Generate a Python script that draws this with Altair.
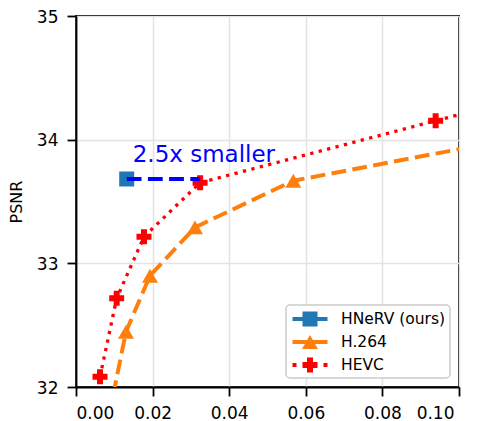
import altair as alt
import pandas as pd

# ---- data ----
hevc_bpp = [0.00627, 0.01062, 0.01775, 0.0324, 0.0939, 0.13]
hevc_psnr = [32.083, 32.717, 33.215, 33.652, 34.153, 34.44]

h264_bpp = [0.0075, 0.01305, 0.01932, 0.03107, 0.05674, 0.13]
h264_psnr = [31.6, 32.447, 32.900, 33.291, 33.668, 34.10]

hnerv_bpp = [0.01324]
hnerv_psnr = [33.682]

# annotation: HNeRV vs HEVC at equal PSNR
annot_bpp = [0.01324, 0.0324]
annot_psnr = [33.682, 33.682]
annot_text = ["2.5x smaller"]
annot_text_pos = [0.0148, 33.82]

series = ["HNeRV (ours)", "H.264", "HEVC"]
series_colors = ["#1f77b4", "#ff7f0e", "#ff0000"]

x_ticks = [0.0, 0.02, 0.04, 0.06, 0.08, 0.10]
y_ticks = [32, 33, 34, 35]

FONT = "DejaVu Sans"

hevc = pd.DataFrame({"bpp": hevc_bpp, "psnr": hevc_psnr})
h264 = pd.DataFrame({"bpp": h264_bpp, "psnr": h264_psnr})
hnerv = pd.DataFrame({"bpp": hnerv_bpp, "psnr": hnerv_psnr})
annot = pd.DataFrame({"bpp": annot_bpp, "psnr": annot_psnr})
annot_lbl = pd.DataFrame({"bpp": [annot_text_pos[0]], "psnr": [annot_text_pos[1]], "t": annot_text})
leg = pd.DataFrame({"series": series, "bpp": [None] * 3, "psnr": [None] * 3})

xs = alt.Scale(domain=[0, 0.1], nice=False, zero=False)
ys = alt.Scale(domain=[32, 35], nice=False, zero=False)

X = alt.X("bpp:Q", scale=xs,
          axis=alt.Axis(values=x_ticks, format=".2f", title=None,
                        labelOffset={"condition": {"test": "datum.value >= 0.099", "value": -5},
                                     "value": 0}))
Y = alt.Y("psnr:Q", scale=ys,
          axis=alt.Axis(values=y_ticks, format="d", title="PSNR"))

h264_line = alt.Chart(h264).mark_line(
    color="#ff7f0e", strokeWidth=4, strokeDash=[14.8, 6.4], clip=True
).encode(x=X, y=Y)
h264_pts = alt.Chart(h264).mark_point(
    shape="triangle-up", filled=True, size=256, color="#ff7f0e", opacity=1, clip=True
).encode(x=X, y=Y)

hevc_line = alt.Chart(hevc).mark_line(
    color="#ff0000", strokeWidth=3.3, strokeDash=[3.3, 5.4], clip=True
).encode(x=X, y=Y)
hevc_pts = alt.Chart(hevc).mark_point(
    shape="cross", filled=True, size=225, color="#ff0000", opacity=1, clip=True
).encode(x=X, y=Y)

hnerv_pts = alt.Chart(hnerv).mark_point(
    shape="square", filled=True, size=225, color="#1f77b4", opacity=1
).encode(x=X, y=Y)

annot_line = alt.Chart(annot).mark_line(
    color="#0000ff", strokeWidth=4, strokeDash=[14.8, 6.4]
).encode(x=X, y=Y)

annot_txt = alt.Chart(annot_lbl).mark_text(
    color="#0000ff", fontSize=23, font=FONT, align="left", baseline="alphabetic"
).encode(x=X, y=Y, text="t:N")

# legend symbols: line + marker (unit = 10px when symbolSize=400)
p_line = "M-1.75,-0.2H1.75V0.2H-1.75Z"
p_square = "M-0.75,-0.75H0.75V0.75H-0.75Z"
p_tri = "M0,-0.7L0.8,0.7L-0.8,0.7Z"
p_plus = "M-0.3,-0.75H0.3V-0.3H0.75V0.3H0.3V0.75H-0.3V0.3H-0.75V-0.3H-0.3Z"
p_dots = "M-1.75,-0.2H-1.35V0.2H-1.75Z M1.35,-0.2H1.75V0.2H1.35Z"
legend_shapes = [p_line + " " + p_square, p_line + " " + p_tri, p_dots + " " + p_plus]

legend_layer = alt.Chart(leg).mark_point(filled=True, opacity=1, strokeWidth=0).encode(
    x=X, y=Y,
    color=alt.Color("series:N", scale=alt.Scale(domain=series, range=series_colors),
                    legend=alt.Legend(title=None, orient="bottom-right")),
    shape=alt.Shape("series:N", scale=alt.Scale(domain=series, range=legend_shapes),
                    legend=alt.Legend(title=None, orient="bottom-right")),
)

chart = alt.layer(
    h264_line, h264_pts, hevc_line, hevc_pts, hnerv_pts, annot_line, annot_txt, legend_layer
).properties(
    width=383, height=371,
    autosize=alt.AutoSizeParams(type="none"),
    padding={"left": 68, "top": 8, "right": 14, "bottom": 34},
).configure_view(
    stroke="black", strokeWidth=1.8
).configure_axis(
    labelFont=FONT, labelFontSize=17, labelColor="black",
    titleFont=FONT, titleFontSize=16, titleFontWeight="normal", titleColor="black",
    domainColor="black", domainWidth=1.8,
    tickColor="black", tickWidth=1.8, tickSize=9,
    gridColor="#e3e3e3", gridWidth=1.5, labelPadding=9,
).configure_axisY(
    titlePadding=12, labelOffset=1
).configure_legend(
    offset=9, padding=4, fillColor="white", strokeColor="#cccccc",
    cornerRadius=4, strokeWidth=1.5,
    symbolSize=400, symbolOffset=10, labelOffset=21, rowPadding=4,
    labelFont=FONT, labelFontSize=15.5, labelColor="black",
    symbolStrokeWidth=0,
)

chart.save("out.html", embed_options={"renderer": "svg", "actions": False})
